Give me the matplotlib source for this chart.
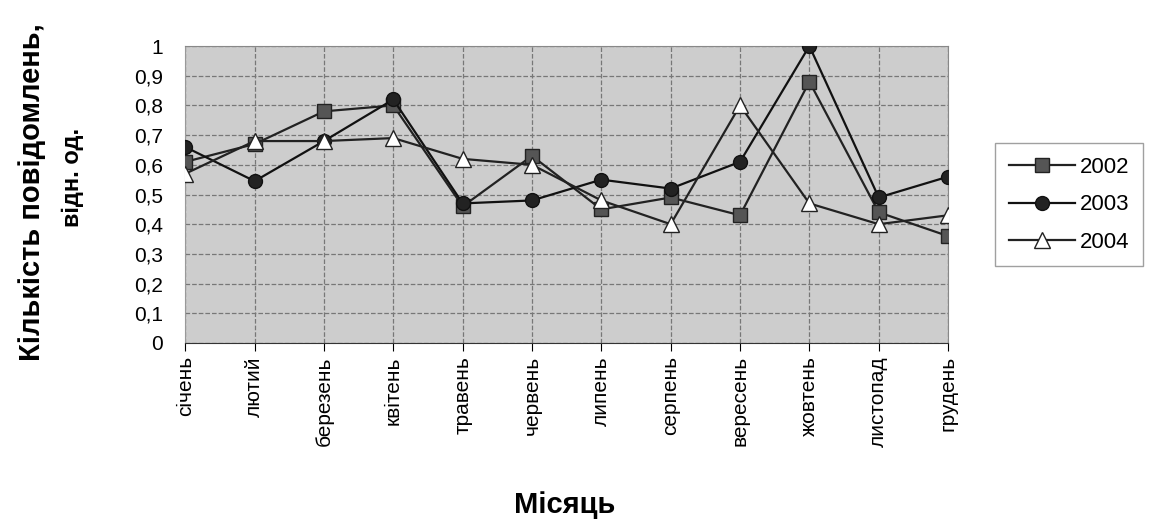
import matplotlib
matplotlib.use("Agg")
from matplotlib import pyplot as plt
import numpy as np

plt.rcParams['font.family'] = ['Liberation Sans', 'DejaVu Sans']

months = ['січень', 'лютий', 'березень', 'квітень', 'травень', 'червень',
          'липень', 'серпень', 'вересень', 'жовтень', 'листопад', 'грудень']
y2002 = [0.61, 0.67, 0.78, 0.80, 0.46, 0.63, 0.45, 0.49, 0.43, 0.88, 0.44, 0.36]
y2003 = [0.66, 0.545, 0.68, 0.82, 0.47, 0.48, 0.55, 0.52, 0.61, 1.00, 0.49, 0.56]
y2004 = [0.57, 0.68, 0.68, 0.69, 0.62, 0.60, 0.48, 0.40, 0.80, 0.47, 0.40, 0.43]
yticks = [0, 0.1, 0.2, 0.3, 0.4, 0.5, 0.6, 0.7, 0.8, 0.9, 1]

fig = plt.figure(figsize=(11.58, 5.2), dpi=100)
ax = fig.add_axes([0.16, 0.3404, 0.6587, 0.5711])
ax.set_facecolor('#cdcdcd')

x = np.arange(len(months))
ax.plot(x, y2002, color='#222222', lw=1.6, marker='s', ms=10,
        mfc='#555555', mec='#222222', label='2002', zorder=3)
ax.plot(x, y2003, color='#111111', lw=1.6, marker='o', ms=10,
        mfc='#222222', mec='#111111', label='2003', zorder=3)
ax.plot(x, y2004, color='#222222', lw=1.6, marker='^', ms=11,
        mfc='white', mec='#222222', label='2004', zorder=3)

ax.set_xlim(0, len(months) - 1)
ax.set_ylim(0, 1)
ax.set_xticks(x)
ax.set_xticklabels(months, rotation=90, fontsize=15)
ax.set_yticks(yticks)
ax.set_yticklabels([('%g' % v).replace('.', ',') for v in yticks], fontsize=15)
ax.grid(True, ls='--', color='#777777', lw=0.9)
ax.set_axisbelow(True)
for s in ['top', 'right']:
    ax.spines[s].set_color('#888888')
ax.spines['left'].set_color('#999999')
ax.spines['bottom'].set_color('#333333')
ax.tick_params(axis='y', length=0, pad=16)
ax.tick_params(axis='x', length=6, direction='out')

# axis titles
fig.text(0.028, 0.63, 'Кількість повідомлень,', rotation=90, fontsize=21,
         fontweight='bold', ha='center', va='center')
fig.text(0.063, 0.658, 'відн. од.', rotation=90, fontsize=17,
         fontweight='bold', ha='center', va='center')
fig.text(0.488, 0.029, 'Місяць', fontsize=21, fontweight='bold',
         ha='center', va='center')

leg = ax.legend(loc='center left', bbox_to_anchor=(1.062, 0.465), fontsize=16,
                frameon=True, fancybox=False, edgecolor='#888888',
                handlelength=3.0, handletextpad=0.2, labelspacing=0.75,
                borderpad=0.6, borderaxespad=0)
leg.get_frame().set_linewidth(1.0)

fig.savefig('out.png', dpi=100)
